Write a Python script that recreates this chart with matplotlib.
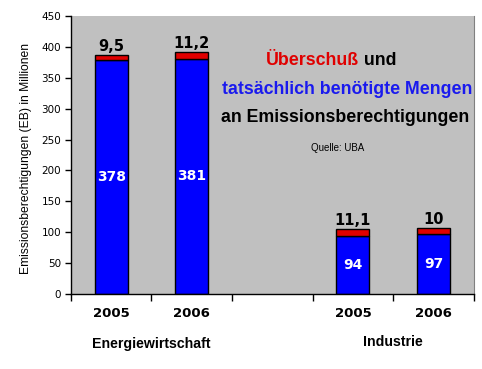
import matplotlib

matplotlib.use("Agg")
import matplotlib.pyplot as plt
import numpy as np
from matplotlib.transforms import blended_transform_factory

# chart data
slots = ["2005", "2006", "", "2005", "2006"]
bar_slots = [0, 1, 3, 4]
needed = [378, 381, 94, 97]
surplus = [9.5, 11.2, 11.1, 10]
surplus_labels = ["9,5", "11,2", "11,1", "10"]
groups = ["Energiewirtschaft", "Industrie"]
group_centers = [0.5, 3.5]
y_ticks = [0, 50, 100, 150, 200, 250, 300, 350, 400, 450]

BLUE = "#0000FF"
RED = "#E00000"
GRAY = "#C0C0C0"

fig = plt.figure(figsize=(4.82, 3.69), dpi=100)
ax = fig.add_axes([0.147, 0.203, 0.836, 0.754])
ax.set_facecolor(GRAY)

x = np.array(bar_slots)
ax.bar(x, needed, width=0.41, color=BLUE, edgecolor="black", linewidth=1.0, zorder=2)
ax.bar(x, surplus, bottom=needed, width=0.41, color=RED, edgecolor="black",
       linewidth=1.0, zorder=2)

for xi, n, s, lab in zip(x, needed, surplus, surplus_labels):
    ax.text(xi, n / 2, str(n), color="white", ha="center", va="center",
            fontsize=10, fontweight="bold", family="DejaVu Sans", zorder=3)
    ax.text(xi, n + s + 1.5, lab, color="black", ha="center", va="bottom",
            fontsize=10.5, fontweight="bold", family="DejaVu Sans", zorder=3)

ax.set_xlim(-0.5, 4.5)
ax.set_ylim(0, 450)
ax.set_yticks(y_ticks)
ax.tick_params(axis="y", labelsize=7.5, length=4, width=1, pad=3)
ax.set_xticks(np.arange(-0.5, 5.0, 1.0))
ax.set_xticklabels([])
ax.set_xticks(np.arange(len(slots)), minor=True)
ax.set_xticklabels(slots, minor=True, fontsize=9.5, fontweight="bold", family="DejaVu Sans")
ax.tick_params(axis="x", which="major", length=5, width=1, direction="out")
ax.tick_params(axis="x", which="minor", length=0, pad=9)

ax.spines["top"].set_visible(False)
ax.spines["right"].set_color("#808080")
ax.spines["left"].set_linewidth(1)
ax.spines["bottom"].set_linewidth(1)

ax.set_ylabel("Emissionsberechtigungen (EB) in Millionen", fontsize=8.7,
              family="Liberation Sans")
ax.yaxis.set_label_coords(-0.097, 0.486)

trans = blended_transform_factory(ax.transData, ax.transAxes)
ax.text(group_centers[0], -0.178, groups[0], transform=trans, ha="center", va="center",
        fontsize=10.2, fontweight="bold", family="Liberation Sans")
ax.text(group_centers[1], -0.172, groups[1], transform=trans, ha="center", va="center",
        fontsize=10.2, fontweight="bold", family="Liberation Sans")

# title block inside the plot
ax.text(0.715, 0.838, "Überschuß", transform=ax.transAxes, ha="right", va="center",
        fontsize=12.8, fontweight="bold", color=RED, family="Liberation Sans")
ax.text(0.715, 0.838, " und", transform=ax.transAxes, ha="left", va="center",
        fontsize=12.8, fontweight="bold", color="black", family="Liberation Sans")
ax.text(0.685, 0.737, "tatsächlich benötigte Mengen", transform=ax.transAxes,
        ha="center", va="center", fontsize=12.8, fontweight="bold", color="#1a1aee",
        family="Liberation Sans")
ax.text(0.681, 0.633, "an Emissionsberechtigungen", transform=ax.transAxes,
        ha="center", va="center", fontsize=12.8, fontweight="bold", color="black",
        family="Liberation Sans")
ax.text(0.661, 0.525, "Quelle: UBA", transform=ax.transAxes, ha="center", va="center",
        fontsize=7, color="black", family="Liberation Sans")

fig.savefig("out.png", dpi=100)
